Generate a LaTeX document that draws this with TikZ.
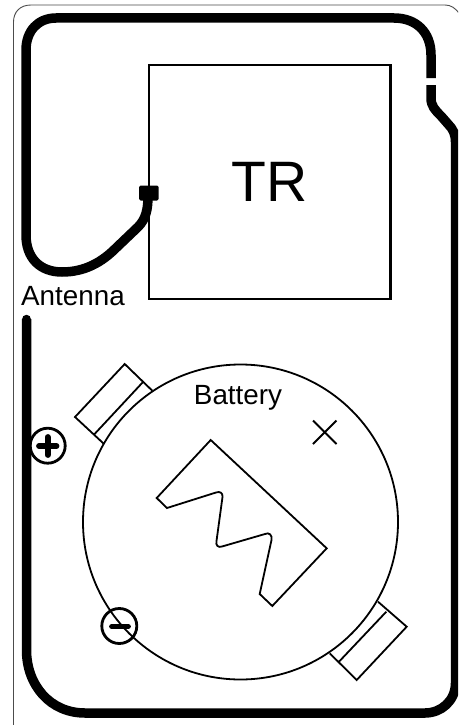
\documentclass[tikz,border=0pt]{standalone}
\usepackage{fontspec}
\setmainfont{Liberation Sans}
\tikzset{
  trace/.style={line width=9.5pt,black},
  thinline/.style={line width=1.8pt,black},
  boxline/.style={line width=2.3pt,black},
  symcircle/.style={line width=2.8pt,black},
  symbar/.style={line width=5.8pt,black,line cap=round},
  lbl/.style={inner sep=0pt,font=\fontsize{27.8}{30}\selectfont}
}
\begin{document}
\begin{tikzpicture}[x=1pt,y=-1pt]
\useasboundingbox (0,0) rectangle (458,725);
\fill[white] (0,0) rectangle (458,725);
\begin{scope}
\clip (0,0) rectangle (458,725);
% card outline
\draw[line width=0.9pt,black!70] (13.5,725) -- (13.5,22) .. controls (13.5,12) and (20,5) .. (31,5) -- (445,5) .. controls (451,5) and (455,8) .. (459,13);
% antenna trace
\draw[trace,line cap=butt] (431,78) -- (431,55) .. controls (431,32) and (416,18) .. (394,18)
  -- (56,18) .. controls (38,18) and (26,31) .. (26,50)
  -- (26,235) .. controls (26,258) and (40,272) .. (62,272)
  .. controls (85,272) and (102,262) .. (116,248) -- (138,227)
  .. controls (146,219) and (148,209) .. (148,196);
\draw[trace,line cap=butt] (431,85) -- (431,98) .. controls (431,106) and (435,110) .. (441,116)
  -- (448,124) .. controls (453,129) and (455.5,134) .. (455.5,142)
  -- (455.5,683) .. controls (455.5,701) and (441,713) .. (425,713)
  -- (85,713) .. controls (50,713) and (26.5,685) .. (26.5,650)
  -- (26.5,319);
\draw[black,line width=9.5pt,line cap=round] (26.5,323) -- (26.5,319.5);
% connection pad
\fill[black,rounded corners=1.5pt] (139,185.5) rectangle (158.5,200.5);
% TR box
\node[draw,boxline,rectangle,inner sep=0pt,outer sep=0pt,minimum width=241.5pt,minimum height=234pt,font=\fontsize{57}{60}\selectfont] (tr) at (269.75,182) {TR};
\node[lbl,anchor=west] (antenna) at (21,296) {Antenna};
% battery
\draw[thinline] (240.5,522) circle (157.5);
\node[lbl,anchor=center] (battery) at (238,398) {Battery};
% tabs
\draw[thinline,line join=miter] (152.3,390.7) -- (124.7,364) -- (75,417) -- (103.3,443.3);
\draw[thinline] (143.3,381.7) -- (94.3,434.3);
\draw[thinline,line join=miter] (378,601.7) -- (406.7,626.7) -- (356.7,680) -- (329.7,653.3);
\draw[thinline] (386.3,611.7) -- (339,661.7);
% notch shape
\draw[thinline,line join=miter] (210.7,440) -- (326.7,548.3) -- (272.3,606) -- (259.7,594)
  -- (271.5,540) .. controls (272.5,535) and (269,532) .. (265,534)
  -- (222,546.5) .. controls (218,548) and (215.5,545) .. (216.5,541)
  -- (222.5,497) .. controls (223,493) and (220,491) .. (216,492.5)
  -- (167,508) -- (156.7,498) -- cycle;
% cross
\draw[thinline] (313,420.5) -- (336.5,444);
\draw[thinline] (313,444) -- (336.5,420.5);
% plus
\draw[symcircle] (47.7,445.7) circle (17.5);
\draw[symbar] (39,446) -- (56.5,446);
\draw[symbar] (47.7,437) -- (47.7,455);
% minus
\draw[symcircle] (119.3,626) circle (17.5);
\draw[symbar] (112,626.5) -- (128,626.5);
\end{scope}
\end{tikzpicture}
\end{document}
